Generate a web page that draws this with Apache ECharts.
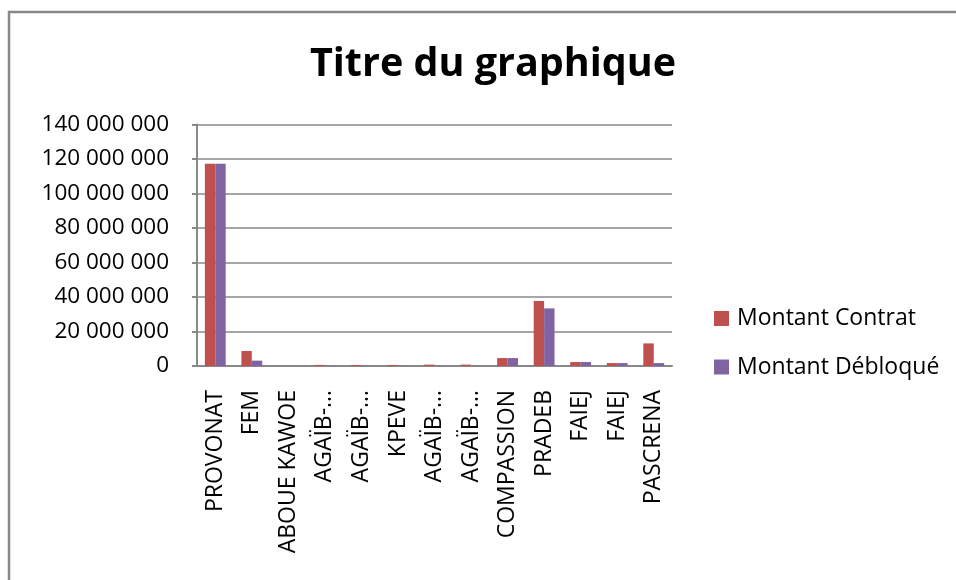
<!DOCTYPE html>
<html>
<head>
<meta charset="utf-8">
<script src="https://cdn.jsdelivr.net/npm/echarts@6/dist/echarts.min.js"></script>
<style>html,body{margin:0;padding:0;background:#fff}#c{width:956px;height:580px}</style>
</head>
<body>
<div id="c"></div>
<script>
const categories = ['PROVONAT','FEM','ABOUE KAWOE','AGAÏB-…','AGAÏB-…','KPEVE','AGAÏB-…','AGAÏB-…','COMPASSION','PRADEB','FAIEJ','FAIEJ','PASCRENA'];
const montantContrat = [117300000, 8700000, 0, 600000, 600000, 600000, 800000, 800000, 4600000, 37700000, 2300000, 1700000, 13100000];
const montantDebloque = [117300000, 3100000, 0, 100000, 100000, 100000, 100000, 100000, 4600000, 33400000, 2300000, 1700000, 1700000];
const yTicks = [0, 20000000, 40000000, 60000000, 80000000, 100000000, 120000000, 140000000];

const FONT = '"Open Sans", "Noto Sans", sans-serif';
const fmt = v => String(Math.round(v)).replace(/\B(?=(\d{3})+(?!\d))/g, ' ');

const chart = echarts.init(document.getElementById('c'), null, {renderer: 'canvas'});
chart.setOption({
  animation: false,
  backgroundColor: '#fff',
  textStyle: {fontFamily: FONT},
  title: {
    text: 'Titre du graphique',
    left: 488, textAlign: 'center', top: 40,
    textStyle: {fontFamily: FONT, fontWeight: 'bold', fontSize: 39.5, color: '#000'}
  },
  graphic: [
    {type: 'polyline', shape: {points: [[9, 580], [9, 12], [956, 12]]}, style: {stroke: '#888', lineWidth: 2.5, fill: null}}
  ],
  legend: {
    orient: 'vertical', left: 714, top: 307, padding: 0,
    itemWidth: 15, itemHeight: 15, itemGap: 25.5,
    icon: 'rect',
    textStyle: {fontFamily: FONT, fontSize: 23, color: '#000', lineHeight: 23, padding: [0, 0, 0, 3]},
    data: ['Montant Contrat', 'Montant Débloqué']
  },
  grid: {left: 197, right: 284, top: 124.5, bottom: 214, containLabel: false},
  xAxis: {
    type: 'category',
    data: categories,
    axisLine: {lineStyle: {color: '#888', width: 2}},
    axisTick: {show: false},
    axisLabel: {rotate: 90, interval: 0, margin: 24, fontFamily: FONT, fontSize: 23, color: '#000'}
  },
  yAxis: {
    type: 'value', min: 0, max: yTicks[yTicks.length - 1], interval: yTicks[1] - yTicks[0],
    axisLine: {show: true, lineStyle: {color: '#888', width: 2}},
    axisTick: {show: true, length: 5, lineStyle: {color: '#888', width: 2}},
    splitLine: {lineStyle: {color: '#8a8a8a', width: 1.5}},
    axisLabel: {margin: 28, fontFamily: FONT, fontSize: 22.5, color: '#000', formatter: fmt}
  },
  series: [
    {name: 'Montant Contrat', type: 'bar', data: montantContrat, barGap: '0%', barCategoryGap: '43%',
     itemStyle: {color: '#C0504D'}},
    {name: 'Montant Débloqué', type: 'bar', data: montantDebloque,
     itemStyle: {color: '#8064A2'}}
  ]
});
</script>
</body>
</html>
